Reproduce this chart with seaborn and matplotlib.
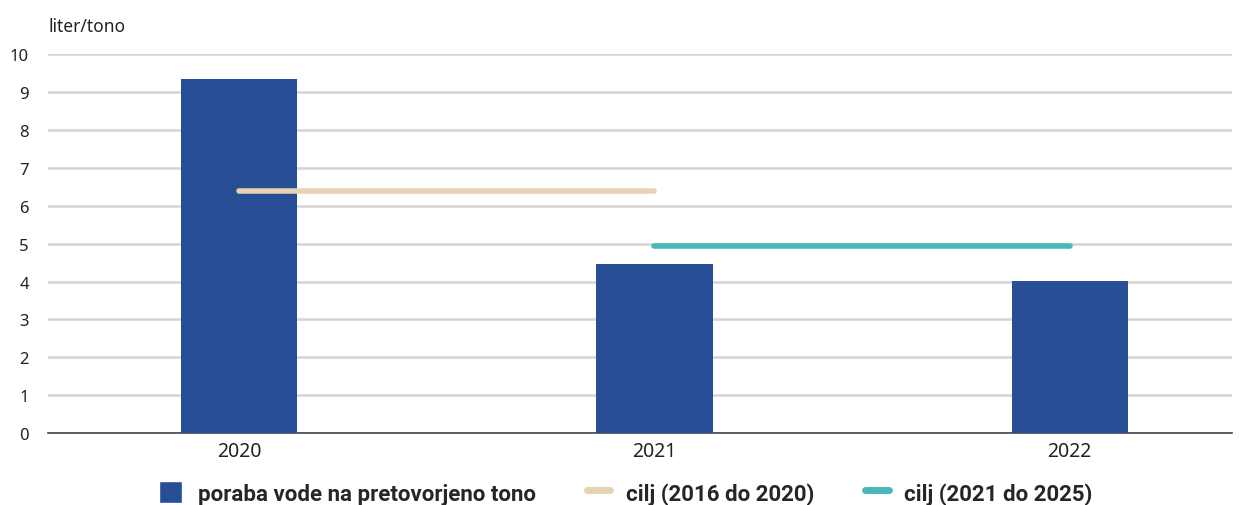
import pandas as pd
import matplotlib.pyplot as plt
import seaborn as sns
from matplotlib.lines import Line2D
from matplotlib.patches import Patch

# Data
years = ["2020", "2021", "2022"]
usage = [9.34, 4.46, 4.01]

target_labels = ["cilj (2016 do 2020)", "cilj (2021 do 2025)"]
target_from = ["2020", "2021"]
target_to = ["2021", "2022"]
target_values = [6.40, 4.93]

bar_label = "poraba vode na pretovorjeno tono"
unit_label = "liter/tono"

bar_color = "#284f96"
target_colors = ["#e6d3b3", "#48b8b8"]

sns.set_style("white")
plt.rcParams['font.family'] = ['Noto Sans', 'DejaVu Sans']

fig = plt.figure(figsize=(12.39, 5.06), dpi=100)
ax = fig.add_axes([0.039, 0.142, 0.955, 0.749])

df = pd.DataFrame({"year": years, "usage": usage})
sns.barplot(data=df, x="year", y="usage", color=bar_color, width=0.28,
            saturation=1, linewidth=0, ax=ax, zorder=3)

# target lines spanning from one year to the next
for start, end, val, col in zip(target_from, target_to, target_values, target_colors):
    ax.plot([years.index(start), years.index(end)], [val, val], color=col,
            linewidth=4, solid_capstyle="round", zorder=4)

ax.set_ylim(0, 10)
ax.set_xlim(-0.46, 2.39)
ax.set_yticks(range(0, 11))
ax.yaxis.grid(True, color="#d4d4d4", linewidth=1.8, zorder=0)
ax.set_axisbelow(True)
for s in ["top", "right", "left"]:
    ax.spines[s].set_visible(False)
ax.spines["bottom"].set_color("#444444")
ax.spines["bottom"].set_linewidth(1.2)
ax.set_xlabel("")
ax.set_ylabel("")
ax.tick_params(axis="y", length=0, labelsize=12, colors="#222222", pad=14)
ax.tick_params(axis="x", length=0, labelsize=14, colors="#222222", pad=6)
ax.text(-0.0, 1.075, unit_label, transform=ax.transAxes, fontsize=12.5,
        color="#222222", ha="left", va="center")

# Legend
handles = [Patch(facecolor=bar_color, label=bar_label)]
for lab, col in zip(target_labels, target_colors):
    handles.append(Line2D([0], [0], color=col, linewidth=5, label=lab))
leg = fig.legend(handles=handles, loc="center", bbox_to_anchor=(0.505, 0.024),
                 ncol=3, frameon=False,
                 prop={"family": "Roboto", "weight": "bold", "size": 16},
                 columnspacing=2.3, handlelength=1.05, handleheight=1.15,
                 handletextpad=0.7, borderpad=0)

fig.savefig("out.png", dpi=100)
